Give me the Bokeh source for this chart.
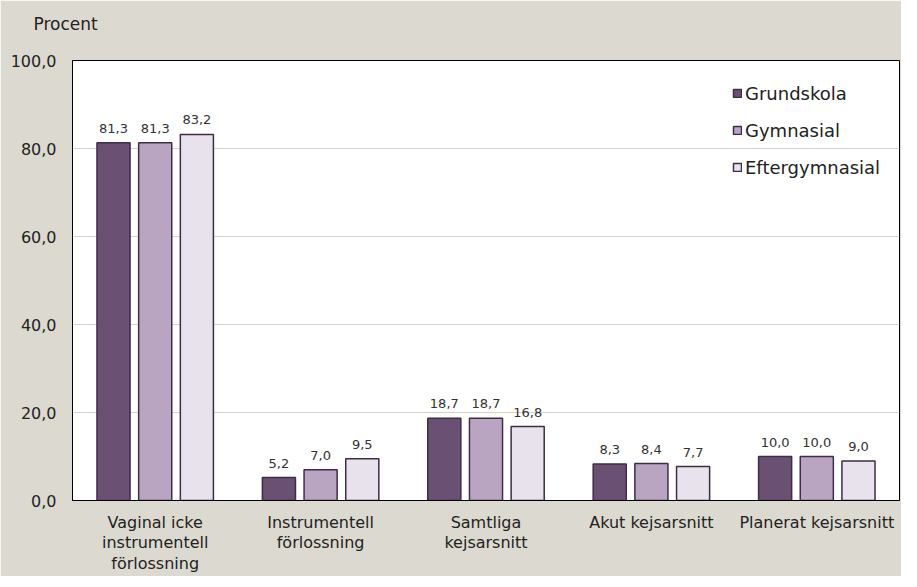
from bokeh.plotting import figure
from bokeh.models import FactorRange, ColumnDataSource, FixedTicker, Legend, LegendItem, Range1d
from bokeh.transform import dodge
from bokeh.core.properties import value
from bokeh.embed import file_html
from bokeh.resources import INLINE

categories = ["Vaginal icke\ninstrumentell\nförlossning", "Instrumentell\nförlossning",
              "Samtliga\nkejsarsnitt", "Akut kejsarsnitt", "Planerat kejsarsnitt"]
series_names = ["Grundskola", "Gymnasial", "Eftergymnasial"]
grundskola = [81.3, 5.2, 18.7, 8.3, 10.0]
gymnasial = [81.3, 7.0, 18.7, 8.4, 10.0]
eftergymnasial = [83.2, 9.5, 16.8, 7.7, 9.0]
y_ticks = [0, 20, 40, 60, 80, 100]
y_tick_labels = ["0,0", "20,0", "40,0", "60,0", "80,0", "100,0"]
y_axis_title = "Procent"

colors = ["#6A5173", "#B9A5C2", "#E7E2EB"]
outline = "#3F2D47"
bg = "#DCDAD0"
FONT = "DejaVu Sans"
TXT = "#222222"

def fmt(v):
    return f"{v:.1f}".replace(".", ",")

src = ColumnDataSource(dict(
    cat=categories,
    g=grundskola, gy=gymnasial, e=eftergymnasial,
    gl=[fmt(v) for v in grundskola],
    gyl=[fmt(v) for v in gymnasial],
    el=[fmt(v) for v in eftergymnasial],
))

FW, FH = 827, 440
p = figure(x_range=FactorRange(*categories), y_range=Range1d(0, 100),
           frame_width=FW, frame_height=FH, output_backend="svg", toolbar_location=None,
           min_border_left=72, min_border_right=2, min_border_top=60, min_border_bottom=0)
p.background_fill_color = "white"
p.border_fill_color = bg
p.outline_line_color = "black"
p.outline_line_width = 1

p.title.text = y_axis_title + "\n "
p.title.align = "left"
p.title.offset = -39
p.title.standoff = 14
p.title.vertical_align = "bottom"
p.title.text_font = FONT
p.title.text_font_size = "17px"
p.title.text_font_style = "normal"
p.title.text_color = TXT

offsets = [-0.252, 0.0, 0.252]
fields = ["g", "gy", "e"]
lfields = ["gl", "gyl", "el"]
renderers = []
for off, f, lf, c in zip(offsets, fields, lfields, colors):
    r = p.vbar(x=dodge("cat", off, range=p.x_range), top=f, width=0.2, source=src,
               fill_color=c, line_color=outline, line_width=1.5)
    renderers.append(r)
    p.text(x=dodge("cat", off, range=p.x_range), y=f, text=lf, source=src,
           text_align="center", text_baseline="bottom", y_offset=-10,
           text_font_size="13px", text_color="#333333", text_font=value(FONT))

legend = Legend(items=[LegendItem(label=n, renderers=[r]) for n, r in zip(series_names, renderers)],
                location=(660, FH - 22 - 96))
legend.background_fill_alpha = 0
legend.border_line_alpha = 0
legend.glyph_width = 10
legend.glyph_height = 10
legend.label_text_font = FONT
legend.label_text_font_size = "18px"
legend.label_text_color = TXT
legend.label_standoff = 3
legend.label_height = 22
legend.spacing = 15
legend.padding = 0
legend.margin = 0
p.add_layout(legend, "center")

p.xgrid.grid_line_color = None
p.ygrid.grid_line_color = "#D6D4C8"
p.ygrid.ticker = FixedTicker(ticks=y_ticks)

p.yaxis.ticker = FixedTicker(ticks=y_ticks)
p.yaxis.major_label_overrides = {t: l for t, l in zip(y_ticks, y_tick_labels)}
p.yaxis.major_tick_line_color = None
p.yaxis.major_tick_out = 0
p.yaxis.minor_tick_line_color = None
p.yaxis.axis_line_color = "black"
p.yaxis.major_label_text_font = FONT
p.yaxis.major_label_text_font_size = "16px"
p.yaxis.major_label_text_color = TXT
p.yaxis.major_label_standoff = 16

p.xaxis.major_tick_line_color = None
p.xaxis.major_tick_out = 0
p.xaxis.axis_line_color = "black"
p.xaxis.major_label_text_font = FONT
p.xaxis.major_label_text_font_size = "16px"
p.xaxis.major_label_text_color = TXT
p.xaxis.major_label_text_line_height = 1.1
p.xaxis.major_label_standoff = 12
p.x_range.range_padding = 0
p.x_range.group_padding = 0

open("out.html", "w").write(file_html(p, INLINE))
